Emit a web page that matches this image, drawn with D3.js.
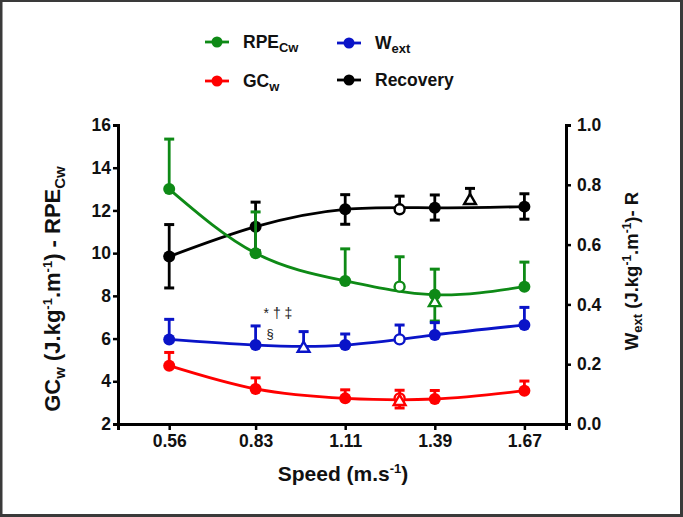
<!DOCTYPE html>
<html><head><meta charset="utf-8">
<script src="https://cdn.jsdelivr.net/npm/d3@7"></script>
<style>
html,body{margin:0;padding:0;background:#fff;}
svg{display:block;font-family:"Liberation Sans",Arial,sans-serif;}
</style></head>
<body><svg id="c" width="683" height="517"></svg>
<script>
// ---- data ----
const speeds = [0.56, 0.83, 1.11, 1.39, 1.67];
const xTicks = [0.56, 0.83, 1.11, 1.39, 1.67];
const leftTicks = [2, 4, 6, 8, 10, 12, 14, 16];
const rightTicks = [0.0, 0.2, 0.4, 0.6, 0.8, 1.0];

const rpe = [13.0, 10.0, 8.7, 8.05, 8.43];
const rpeErr = [2.34, 1.93, 1.5, 1.2, 1.15];
const gc = [4.73, 3.64, 3.2, 3.17, 3.56];
const gcErr = [0.62, 0.52, 0.4, 0.4, 0.45];
const wext = [0.283, 0.264, 0.264, 0.298, 0.331];
const wextErr = [0.067, 0.064, 0.037, 0.041, 0.059];
const recovery = [0.56, 0.66, 0.718, 0.723, 0.727];
const recoveryErrUp = [0.107, 0.082, 0.049, 0.043, 0.043];
const recoveryErrDown = [0.105, 0.08, 0.05, 0.041, 0.042];

// open markers: [speed, value, errUp, errDown]
const openCircles = {
  rpe: [1.28, 8.43, 1.4, 0],
  gc: [1.28, 3.2, 0.38, 0],
  wext: [1.28, 0.283, 0.048, 0],
  recovery: [1.28, 0.718, 0.044, 0]
};
const openTriangles = {
  rpe: [1.39, 7.68, 0, 0.86],
  gc: [1.28, 3.05, 0, 0.3],
  wext: [0.98, 0.253, 0.056, 0],
  recovery: [1.50, 0.747, 0.041, 0]
};

const svg = d3.select("#c");
// frame
svg.append("rect").attr("x",1).attr("y",0.5).attr("width",680.5).attr("height",515)
  .attr("fill","#fff").attr("stroke","#3a3a3a").attr("stroke-width",3);

const X0 = 118, X1 = 566, Y0 = 424, Y1 = 125;
const x = d3.scaleLinear().domain([0.40, 1.80]).range([X0, X1]);
const yL = d3.scaleLinear().domain([2, 16]).range([Y0, Y1]);
const yR = d3.scaleLinear().domain([0, 1]).range([Y0, Y1]);

// axes
const axStyle = g => {
  g.selectAll("path").attr("stroke","#000").attr("stroke-width",3);
  g.selectAll("line").attr("stroke","#000").attr("stroke-width",2.5);
  g.selectAll("text").attr("font-size",17.5).attr("font-weight","bold").attr("fill","#111");
};
svg.append("g").attr("transform",`translate(0,${Y0})`)
  .call(d3.axisBottom(x).tickValues(xTicks).tickFormat(d3.format(".2f")).tickSizeOuter(0).tickSize(6).tickPadding(5))
  .call(axStyle);
svg.append("g").attr("transform",`translate(${X0},0)`)
  .call(d3.axisLeft(yL).tickValues(leftTicks).tickFormat(d3.format("d")).tickSizeOuter(0).tickSize(5).tickPadding(2))
  .call(axStyle);
svg.append("g").attr("transform",`translate(${X1},0)`)
  .call(d3.axisRight(yR).tickValues(rightTicks).tickFormat(d3.format(".1f")).tickSizeOuter(0).tickSize(5).tickPadding(6))
  .call(axStyle);

const series = [
  {key:"recovery", vals:recovery, up:recoveryErrUp, down:recoveryErrDown, y:yR, color:"#000000"},
  {key:"rpe", vals:rpe, up:rpeErr, down:null, y:yL, color:"#0e8a16"},
  {key:"wext", vals:wext, up:wextErr, down:null, y:yR, color:"#0a14c8"},
  {key:"gc", vals:gc, up:gcErr, down:null, y:yL, color:"#ff0000"}
];

const cap = 5;
function errBar(g, sx, v, eu, ed, y, color) {
  if (eu > 0) {
    g.append("line").attr("x1",x(sx)).attr("x2",x(sx)).attr("y1",y(v)).attr("y2",y(v+eu))
      .attr("stroke",color).attr("stroke-width",2.8);
    g.append("line").attr("x1",x(sx)-cap).attr("x2",x(sx)+cap).attr("y1",y(v+eu)).attr("y2",y(v+eu))
      .attr("stroke",color).attr("stroke-width",3);
  }
  if (ed > 0) {
    g.append("line").attr("x1",x(sx)).attr("x2",x(sx)).attr("y1",y(v)).attr("y2",y(v-ed))
      .attr("stroke",color).attr("stroke-width",2.8);
    g.append("line").attr("x1",x(sx)-cap).attr("x2",x(sx)+cap).attr("y1",y(v-ed)).attr("y2",y(v-ed))
      .attr("stroke",color).attr("stroke-width",3);
  }
}

series.forEach(s => {
  const g = svg.append("g");
  const pts = speeds.map((sp,i)=>[sp, s.vals[i]]);
  g.append("path").datum(pts)
    .attr("d", d3.line().x(d=>x(d[0])).y(d=>s.y(d[1])).curve(d3.curveNatural))
    .attr("fill","none").attr("stroke",s.color).attr("stroke-width",2.8);
  speeds.forEach((sp,i)=>{
    errBar(g, sp, s.vals[i], s.up[i], s.down ? s.down[i] : 0, s.y, s.color);
  });
  g.selectAll("circle.f").data(pts).join("circle")
    .attr("cx",d=>x(d[0])).attr("cy",d=>s.y(d[1])).attr("r",6).attr("fill",s.color);
  // open circle
  const oc = openCircles[s.key];
  errBar(g, oc[0], oc[1], oc[2], oc[3], s.y, s.color);
  g.append("circle").attr("cx",x(oc[0])).attr("cy",s.y(oc[1])).attr("r",5)
    .attr("fill","#fff").attr("stroke",s.color).attr("stroke-width",2.4);
  // open triangle
  const ot = openTriangles[s.key];
  errBar(g, ot[0], ot[1], ot[2], ot[3], s.y, s.color);
  g.append("path").attr("transform",`translate(${x(ot[0])},${s.y(ot[1])})`)
    .attr("d", d3.symbol().type(d3.symbolTriangle).size(60)())
    .attr("fill","#fff").attr("stroke",s.color).attr("stroke-width",2.4);
});

// significance annotations
svg.append("text").attr("x",x(0.83)+8).attr("y",yL(6.95)).attr("font-size",14).attr("fill","#222")
  .text("* † ‡");
svg.append("text").attr("x",x(0.83)+11).attr("y",yL(6.05)).attr("font-size",13).attr("fill","#222")
  .text("§");

// axis titles
const bx = svg.append("text").attr("x",(X0+X1)/2 + 1).attr("y",481).attr("text-anchor","middle")
  .attr("font-size",21).attr("font-weight","bold").attr("fill","#111");
bx.append("tspan").text("Speed (m.s");
bx.append("tspan").attr("dy",-8).attr("font-size",13).text("-1");
bx.append("tspan").attr("dy",8).text(")");

const lt = svg.append("text").attr("transform",`translate(60,289) rotate(-90)`).attr("text-anchor","middle")
  .attr("font-size",22).attr("font-weight","bold").attr("fill","#111");
lt.append("tspan").text("GC");
lt.append("tspan").attr("dy",5).attr("font-size",15).text("w");
lt.append("tspan").attr("dy",-5).text(" (J.kg");
lt.append("tspan").attr("dy",-8).attr("font-size",13).text("-1");
lt.append("tspan").attr("dy",8).text(".m");
lt.append("tspan").attr("dy",-8).attr("font-size",13).text("-1");
lt.append("tspan").attr("dy",8).text(")  - RPE");
lt.append("tspan").attr("dy",5).attr("font-size",15).text("Cw");

const rt = svg.append("text").attr("transform",`translate(638,271) rotate(-90)`).attr("text-anchor","middle")
  .attr("font-size",18.5).attr("font-weight","bold").attr("fill","#111");
rt.append("tspan").text("W");
rt.append("tspan").attr("dy",4).attr("font-size",13).text("ext");
rt.append("tspan").attr("dy",-4).text(" (J.kg");
rt.append("tspan").attr("dy",-7).attr("font-size",12).text("-1");
rt.append("tspan").attr("dy",7).text(".m");
rt.append("tspan").attr("dy",-7).attr("font-size",12).text("-1");
rt.append("tspan").attr("dy",7).text(")- R");

// legend
const legendItems = [
  {label:"RPE", sub:"Cw", color:"#0e8a16", lx:205, ly:42},
  {label:"W", sub:"ext", color:"#0a14c8", lx:337, ly:43},
  {label:"GC", sub:"w", color:"#ff0000", lx:205, ly:81},
  {label:"Recovery", sub:"", color:"#000000", lx:337, ly:80}
];
legendItems.forEach(d=>{
  const g = svg.append("g");
  g.append("line").attr("x1",d.lx).attr("x2",d.lx+24).attr("y1",d.ly).attr("y2",d.ly)
    .attr("stroke",d.color).attr("stroke-width",2.8);
  g.append("circle").attr("cx",d.lx+12).attr("cy",d.ly).attr("r",5.5).attr("fill",d.color);
  const t = g.append("text").attr("x",d.lx+38).attr("y",d.ly+6).attr("font-size",17.5)
    .attr("font-weight","bold").attr("fill","#111");
  t.append("tspan").text(d.label);
  if (d.sub) t.append("tspan").attr("dy",4).attr("font-size",13).text(d.sub);
});
</script></body></html>
